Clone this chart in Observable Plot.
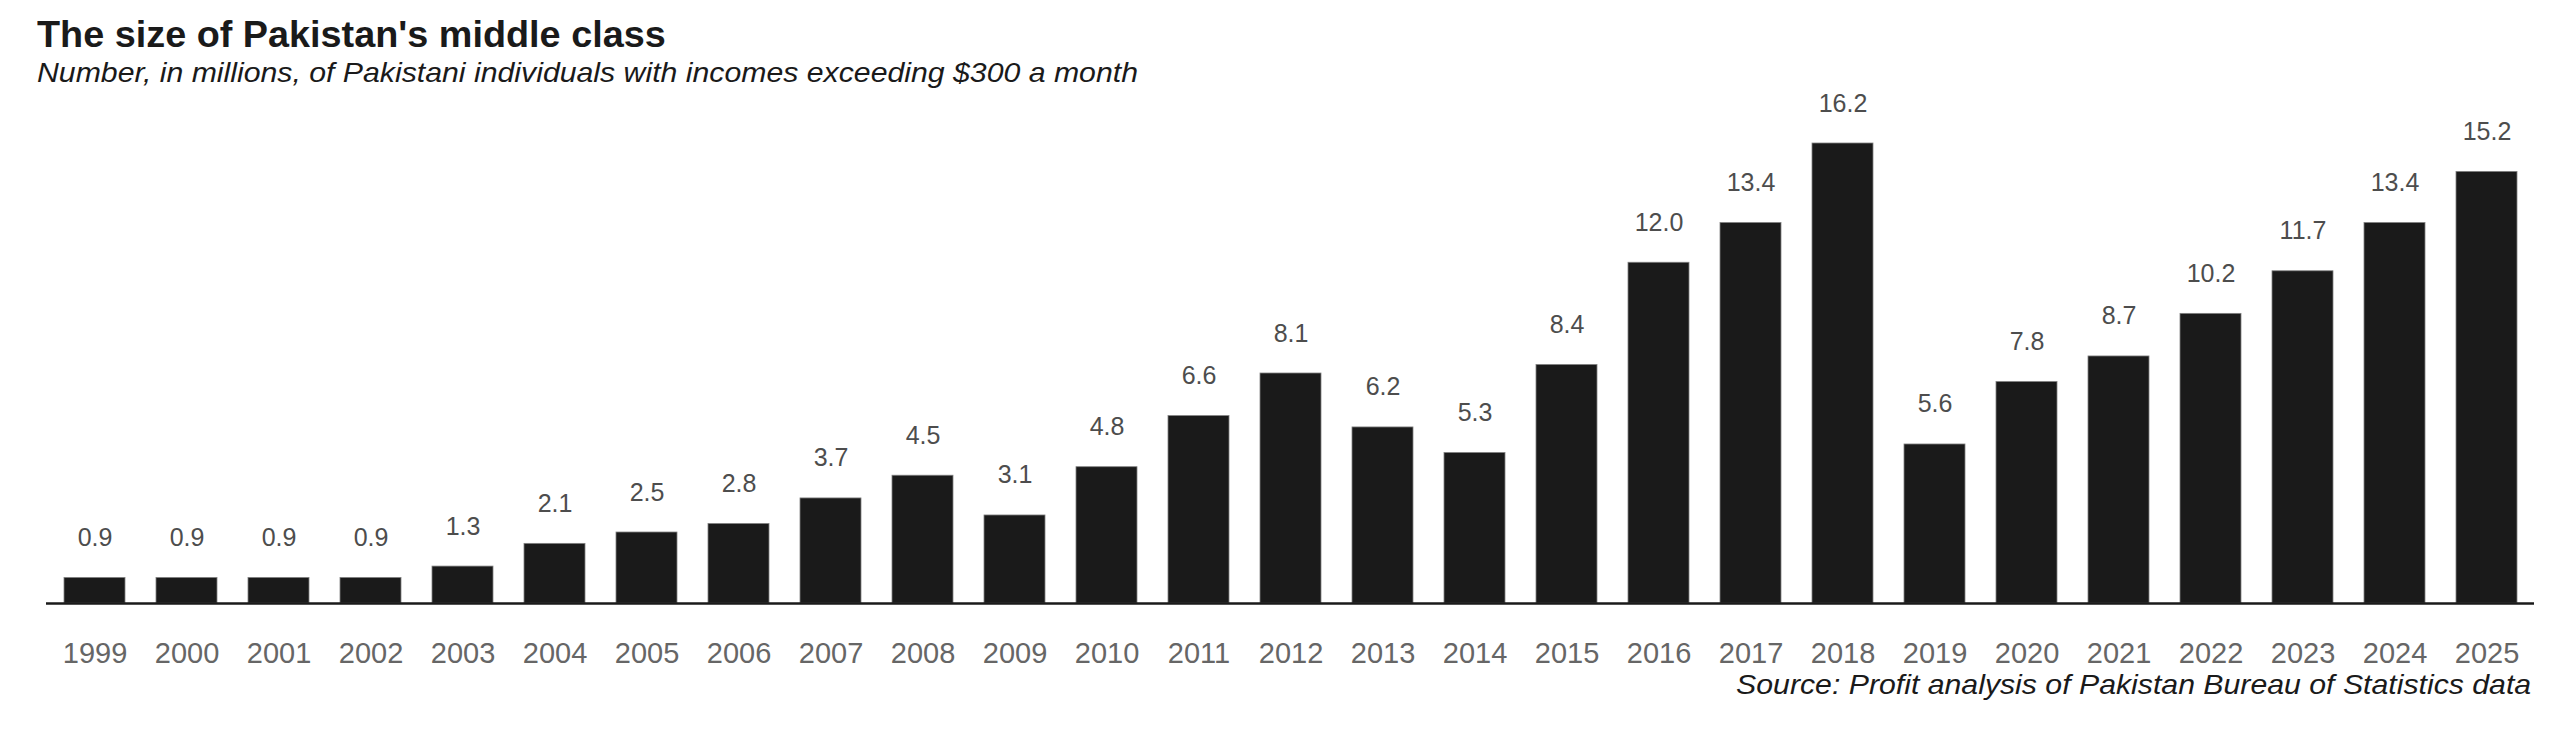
<!DOCTYPE html>
<html>
<head>
<meta charset="utf-8">
<script src="https://cdn.jsdelivr.net/npm/d3@7"></script>
<script src="https://cdn.jsdelivr.net/npm/@observablehq/plot@0.6"></script>
<style>
  html, body { margin: 0; padding: 0; background: #fff; }
  #wrap { position: relative; width: 2560px; height: 729px; overflow: hidden; font-family: "Liberation Sans", Arial, sans-serif; }
  #title { position: absolute; left: 37px; top: 17px; font-size: 36px; line-height: 36px; font-weight: bold; color: #1a1a1a; white-space: nowrap; transform: scaleX(1.05); transform-origin: left center; }
  #subtitle { position: absolute; left: 37px; top: 59px; font-size: 28px; line-height: 28px; font-style: italic; color: #1a1a1a; white-space: nowrap; transform: scaleX(1.08); transform-origin: left center; }
  #caption { position: absolute; right: 29px; top: 671px; font-size: 28px; line-height: 28px; font-style: italic; color: #1a1a1a; white-space: nowrap; transform: scaleX(1.08); transform-origin: right center; }
  #chart { position: absolute; left: 0; top: 88px; }
</style>
</head>
<body>
<div id="wrap">
  <div id="title">The size of Pakistan's middle class</div>
  <div id="subtitle">Number, in millions, of Pakistani individuals with incomes exceeding $300 a month</div>
  <div id="chart"></div>
  <div id="caption">Source: Profit analysis of Pakistan Bureau of Statistics data</div>
</div>
<script>
const years = ["1999","2000","2001","2002","2003","2004","2005","2006","2007","2008","2009","2010","2011","2012","2013","2014","2015","2016","2017","2018","2019","2020","2021","2022","2023","2024","2025"];
const millions = [0.9,0.9,0.9,0.9,1.3,2.1,2.5,2.8,3.7,4.5,3.1,4.8,6.6,8.1,6.2,5.3,8.4,12.0,13.4,16.2,5.6,7.8,8.7,10.2,11.7,13.4,15.2];

const data = years.map((y, i) => ({year: y, value: millions[i]}));

const chart = Plot.plot({
  width: 2560,
  height: 641,
  marginTop: 55,
  marginBottom: 126,
  marginLeft: 46,
  marginRight: 26,
  style: {fontFamily: "'Liberation Sans', Arial, sans-serif", background: "transparent"},
  x: {domain: years, paddingInner: 0.34, paddingOuter: 0.17, label: null},
  y: {domain: [0, 16.2], axis: null},
  marks: [
    Plot.barY(data, {x: "year", y: "value", fill: "#1a1a1a", stroke: "#808080", strokeWidth: 0.8}),
    Plot.ruleY([0], {stroke: "#1a1a1a", strokeWidth: 2.5}),
    Plot.text(data, {x: "year", y: "value", text: d => d.value.toFixed(1), dy: -40, fontSize: 25, fill: "#4d4d4d"}),
    Plot.axisX({tickSize: 0, tickPadding: 39, fontSize: 29, color: "#666666", label: null})
  ]
});
document.getElementById("chart").appendChild(chart);
</script>
</body>
</html>
